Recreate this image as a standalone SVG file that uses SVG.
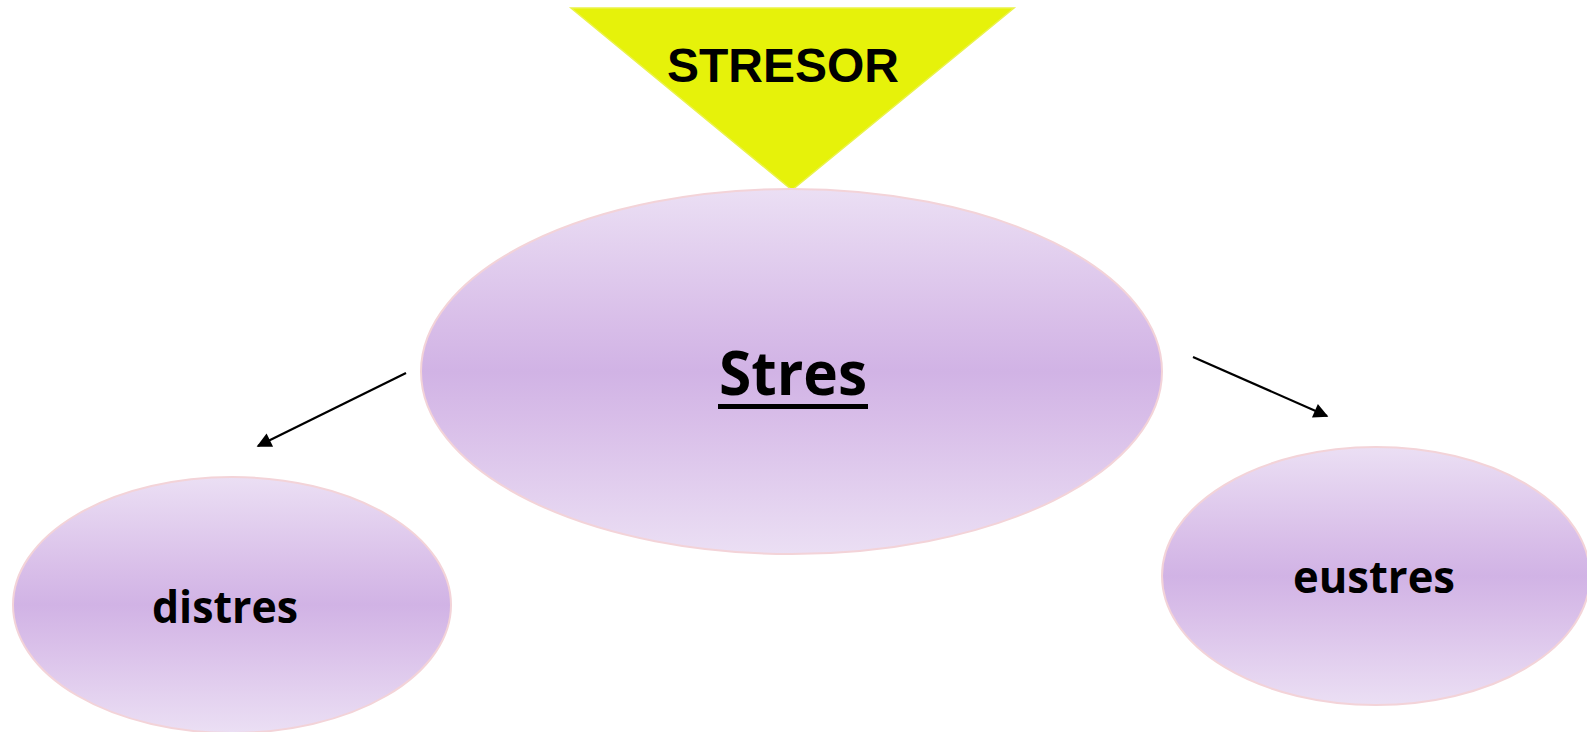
<svg xmlns="http://www.w3.org/2000/svg" width="1587" height="732" viewBox="0 0 1587 732">
<style>
.node{stroke:#f3d3d8;stroke-width:2;fill:url(#lav)}
.lbl{font-family:"Open Sans","Liberation Sans",sans-serif;font-weight:700;fill:#000;text-anchor:middle}
.conn{stroke:#000;stroke-width:2.2;fill:none;marker-end:url(#ah)}
</style>
<defs>
<linearGradient id="lav" x1="0" y1="0" x2="0" y2="1">
<stop offset="0" stop-color="#ebdff4"/>
<stop offset="0.35" stop-color="#d9bfe9"/>
<stop offset="0.5" stop-color="#d1b3e5"/>
<stop offset="0.65" stop-color="#d9bfe9"/>
<stop offset="1" stop-color="#ebdff4"/>
</linearGradient>
<marker id="ah" viewBox="0 0 10 10" refX="9" refY="5" markerWidth="7" markerHeight="7" markerUnits="userSpaceOnUse" orient="auto" overflow="visible">
<path d="M0,0 L10,5 L0,10 z" fill="#000" transform="scale(2.1) translate(-4.7,-2.6)"/>
</marker>
</defs>
<g id="stresor">
<polygon points="571,8 1014,8 792,190" fill="#e6f20a" stroke="#eaf24a" stroke-width="1.5"/>
<text x="783" y="82" font-family="'Liberation Sans',Arial,sans-serif" font-weight="bold" font-size="48" text-anchor="middle">STRESOR</text>
</g>
<g id="stres">
<ellipse class="node" cx="791.5" cy="371.5" rx="370.5" ry="182.5"/>
<text class="lbl" x="793" y="395" font-size="60" textLength="148" lengthAdjust="spacingAndGlyphs">Stres</text>
<rect x="718" y="404" width="150" height="5" fill="#000"/>
</g>
<g id="distres">
<ellipse class="node" cx="232" cy="605" rx="219" ry="128"/>
<text class="lbl" x="225" y="623" font-size="45" textLength="146" lengthAdjust="spacingAndGlyphs">distres</text>
</g>
<g id="eustres">
<ellipse class="node" cx="1376" cy="576" rx="214" ry="129"/>
<text class="lbl" x="1374" y="593" font-size="45" textLength="162" lengthAdjust="spacingAndGlyphs">eustres</text>
</g>
<g id="connectors">
<line class="conn" x1="406" y1="373" x2="258" y2="446"/>
<line class="conn" x1="1193" y1="357" x2="1327" y2="416"/>
</g>
</svg>
